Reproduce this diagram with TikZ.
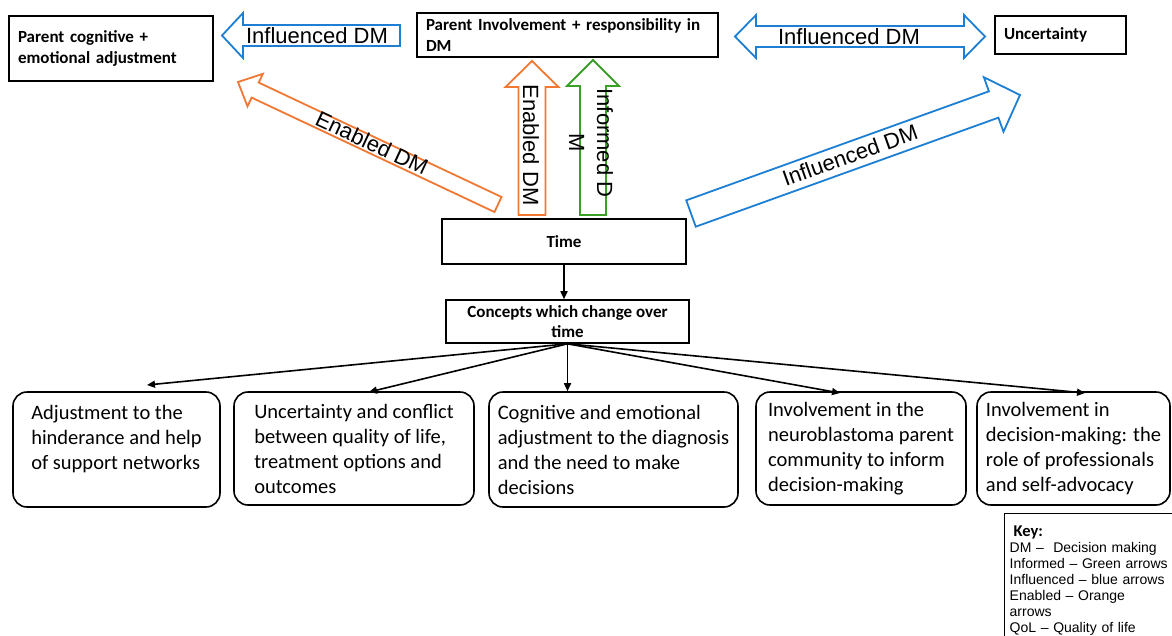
\documentclass[tikz,border=0pt]{standalone}
\usepackage{fontspec}
\usepackage{tikz}
\usetikzlibrary{calc,arrows.meta}
\newfontfamily\boxfont{Carlito}
\newfontfamily\arrowfont{Liberation Sans}
\definecolor{dmblue}{RGB}{28,127,212}
\definecolor{dmorange}{RGB}{240,120,50}
\definecolor{dmgreen}{RGB}{60,160,40}
\tikzset{
  topbox/.style={draw, line width=1.6pt, align=left, inner xsep=9pt, font=\boxfont\bfseries\fontsize{17}{20.5}\selectfont},
  midbox/.style={draw, line width=1.6pt, align=center, font=\boxfont\bfseries\fontsize{17}{20}\selectfont},
  lowbox/.style={draw, line width=1.6pt, rounded corners=14pt, align=left, font=\boxfont\fontsize{20.5}{25}\selectfont},
  keybox/.style={draw, line width=1.4pt, align=left, inner xsep=3pt, anchor=north west, font=\arrowfont\fontsize{14}{16}\selectfont},
  conn/.style={line width=1.6pt, -{Triangle[length=8pt,width=7pt]}},
  fatline/.style={line width=1.8pt, line join=miter},
  armlabel/.style={font=\arrowfont\fontsize{22}{28}\selectfont, inner sep=0pt}
}
% hollow block arrow: colour, tail, tip, shaft half width, head half width, head length
\newcommand{\fatarrow}[6]{%
  \coordinate (fa-t) at (#2);
  \coordinate (fa-p) at (#3);
  \coordinate (fa-h) at ($(fa-p)!#6!(fa-t)$);
  \draw[fatline, #1] ($(fa-t)!#4!90:(fa-p)$) -- ($(fa-h)!#4!90:(fa-p)$) -- ($(fa-h)!#5!90:(fa-p)$)
    -- (fa-p) -- ($(fa-h)!#5!-90:(fa-p)$) -- ($(fa-h)!#4!-90:(fa-p)$) -- ($(fa-t)!#4!-90:(fa-p)$) -- cycle;
}
% hollow block arrow with two heads
\newcommand{\fatdouble}[6]{%
  \coordinate (fd-a) at (#2);
  \coordinate (fd-b) at (#3);
  \coordinate (fd-ha) at ($(fd-a)!#6!(fd-b)$);
  \coordinate (fd-hb) at ($(fd-b)!#6!(fd-a)$);
  \draw[fatline, #1] (fd-a) -- ($(fd-ha)!#5!90:(fd-b)$) -- ($(fd-ha)!#4!90:(fd-b)$) -- ($(fd-hb)!#4!90:(fd-b)$)
    -- ($(fd-hb)!#5!90:(fd-b)$) -- (fd-b) -- ($(fd-hb)!#5!-90:(fd-b)$) -- ($(fd-hb)!#4!-90:(fd-b)$)
    -- ($(fd-ha)!#4!-90:(fd-b)$) -- ($(fd-ha)!#5!-90:(fd-b)$) -- cycle;
}
\begin{document}
\begin{tikzpicture}[x=1pt,y=-1pt]
  \useasboundingbox (0,0) rectangle (1172,635);
  \clip (0,0) rectangle (1172,635);

  % top row
  \node[topbox, minimum width=204pt, minimum height=65pt, text width=186pt] (adjust) at (111,48.5) {Parent cognitive +\\emotional adjustment};
  \node[topbox, minimum width=301pt, minimum height=44pt, text width=283pt] (involve) at (567.5,35) {Parent Involvement + responsibility in\\DM};
  \node[topbox, minimum width=131pt, minimum height=38pt, text width=113pt] (uncert) at (1060.5,35) {Uncertainty};

  % middle
  \node[midbox, minimum width=244pt, minimum height=45pt] (time) at (564,241.5) {Time};
  \node[midbox, minimum width=243pt, minimum height=43pt] (concepts) at (567.5,321.5) {Concepts which change over\\time};
  \draw[conn] (time.south) -- (time.south |- concepts.north);

  % block arrows
  \fatarrow{dmblue}{400,35.5}{222,35.5}{10.5pt}{22.5pt}{21pt}
  \node[armlabel] (l-infl1) at (317,36) {Influenced DM};
  \fatdouble{dmblue}{735,36.5}{985,36.5}{10.5pt}{21.5pt}{21pt}
  \node[armlabel] (l-infl2) at (849,37) {Influenced DM};
  \fatarrow{dmorange}{498,204.5}{238,82}{8.3pt}{18pt}{19pt}
  \node[armlabel, rotate=-25] (l-enab1) at (372,143) {Enabled DM};
  \fatarrow{dmorange}{532,215}{532,61}{13.5pt}{26.5pt}{26pt}
  \node[armlabel, rotate=-90] (l-enab2) at (531,145) {Enabled DM};
  \fatarrow{dmgreen}{593,215}{593,60}{13pt}{26pt}{26pt}
  \node[armlabel, rotate=-90, align=center] (l-inf) at (591,143) {Informed D\\M};
  \fatarrow{dmblue}{691,213.5}{1020,95}{14pt}{29pt}{28pt}
  \node[armlabel, rotate=19.7] (l-infl3) at (850,155) {Influenced DM};

  % bottom row
  \node[lowbox, minimum width=207pt, minimum height=115pt] (c1) at (116.5,449.5) {Adjustment to the\\hinderance and help\\of support networks\\ \mbox{}};
  \node[lowbox, minimum width=240pt, minimum height=113pt] (c2) at (354,448.5) {Uncertainty and conflict\\between quality of life,\\treatment options and\\outcomes};
  \node[lowbox, minimum width=249pt, minimum height=115pt] (c3) at (613.5,449.5) {Cognitive and emotional\\adjustment to the diagnosis\\and the need to make\\decisions};
  \node[lowbox, minimum width=210pt, minimum height=113pt] (c4) at (861,448.5) {Involvement in the\\neuroblastoma parent\\community to inform\\decision-making};
  \node[lowbox, minimum width=193pt, minimum height=113pt] (c5) at (1073.5,448.5) {Involvement in\\decision-making: the\\role of professionals\\and self-advocacy};

  \coordinate (e1) at (147,385);
  \coordinate (e2) at (369,392);
  \coordinate (e4) at (840,393);
  \coordinate (e5) at (1085,393);
  \draw[conn] (concepts.south) -- (e1);
  \draw[conn] (concepts.south) -- (e2);
  \draw[conn] (concepts.south) -- (concepts.south |- c3.north);
  \draw[conn] (concepts.south) -- (e4);
  \draw[conn] (concepts.south) -- (e5);

  % key
  \node[keybox, minimum width=190pt, minimum height=133pt, text width=180pt] (key) at (1004,513)
    {\hspace*{4pt}{\boxfont\bfseries\fontsize{16.5}{16}\selectfont Key:}\\
     DM –\ \ Decision making\\
     Informed – Green arrows\\
     Influenced – blue arrows\\
     Enabled – Orange\\
     arrows\\
     QoL – Quality of life};
\end{tikzpicture}
\end{document}
